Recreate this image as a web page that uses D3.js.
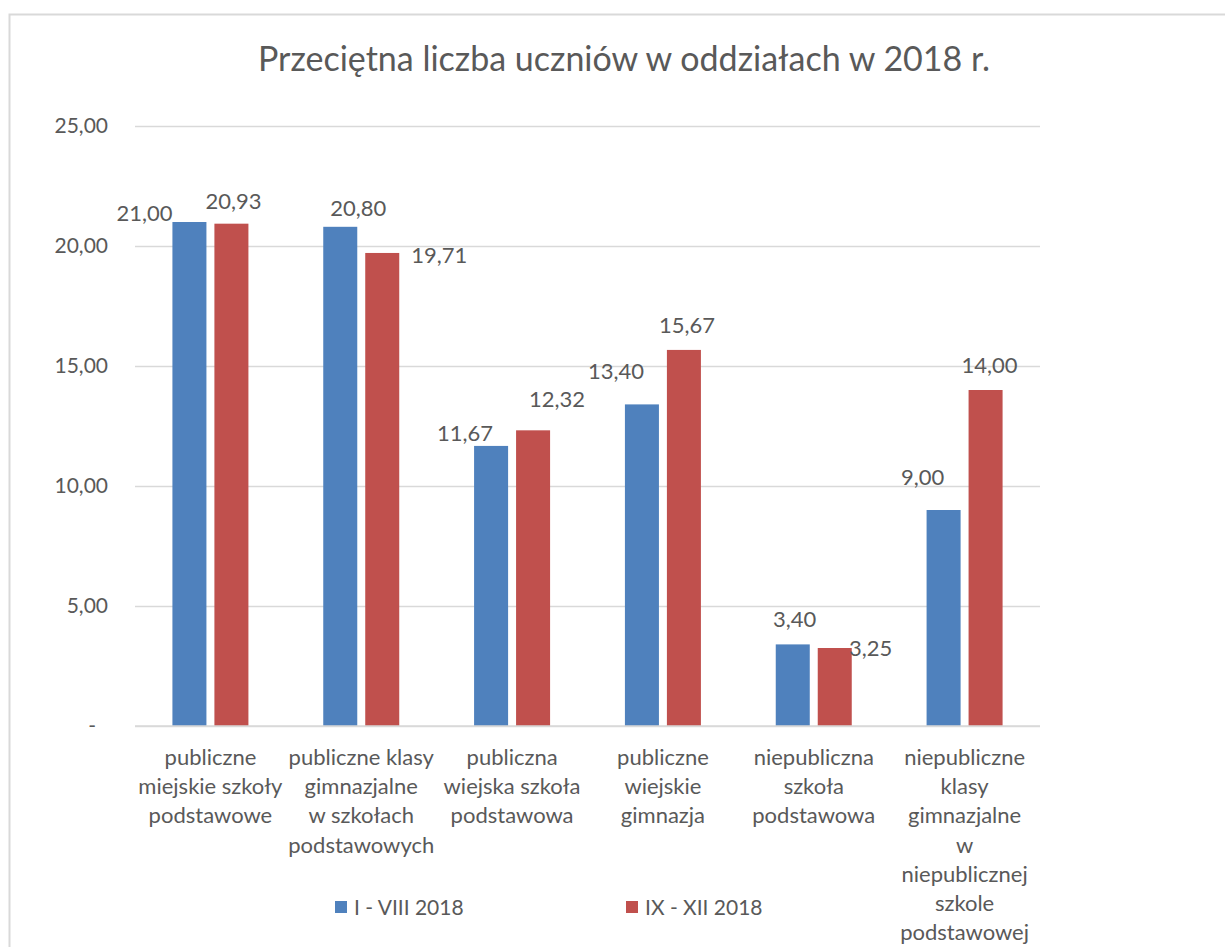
<!DOCTYPE html>
<html>
<head>
<meta charset="utf-8">
<script src="https://cdn.jsdelivr.net/npm/d3@7"></script>
<style>
  body { margin: 0; background: #fff; }
  text { font-family: Lato, "Noto Sans", sans-serif; fill: #595959; }
</style>
</head>
<body>
<div id="chart"></div>
<script>
// chart values
var categories = [
    ["publiczne", "miejskie szkoły", "podstawowe"],
    ["publiczne klasy", "gimnazjalne", "w szkołach", "podstawowych"],
    ["publiczna", "wiejska szkoła", "podstawowa"],
    ["publiczne", "wiejskie", "gimnazja"],
    ["niepubliczna", "szkoła", "podstawowa"],
    ["niepubliczne", "klasy", "gimnazjalne", "w", "niepublicznej", "szkole", "podstawowej"]
];
var seriesNames = ["I - VIII 2018", "IX - XII 2018"];
var firstPeriod = [21.00, 20.80, 11.67, 13.40, 3.40, 9.00];
var secondPeriod = [20.93, 19.71, 12.32, 15.67, 3.25, 14.00];
var yTicks = [0, 5, 10, 15, 20, 25];

// manual data-label nudges (dx, dy from bar top), as placed in the original
var labelNudge = [
    [[-45, -9], [18, -19], [-26, -13], [-26, -33], [2, -25], [-21, -33]],
    [[2, -22], [57, 2], [24, -31], [3, -25], [36, 0], [4, -25]]
];

var ctx = {
    w: 1225,
    h: 947,
    left: 135,
    right: 1040,
    top: 126,
    bottom: 726,
    colors: ["#4F81BD", "#C0504D"],
    grid: "#D9D9D9"
};

var svg = d3.select("#chart").append("svg")
    .attr("width", ctx.w)
    .attr("height", ctx.h);

// outer chart border
svg.append("rect")
    .attr("x", 9.5)
    .attr("y", 14.5)
    .attr("width", 1240)
    .attr("height", 960)
    .attr("fill", "none")
    .attr("stroke", "#D9D9D9")
    .attr("stroke-width", 2);

svg.append("text")
    .attr("x", 624)
    .attr("y", 71)
    .attr("text-anchor", "middle")
    .attr("font-size", "34px")
    .text("Przeciętna liczba uczniów w oddziałach w 2018 r.");

var y = d3.scaleLinear()
    .domain([0, 25])
    .range([ctx.bottom, ctx.top]);

var x0 = d3.scaleBand()
    .domain(d3.range(categories.length))
    .range([ctx.left, ctx.right]);

var groupW = 76;
var x1 = d3.scaleBand()
    .domain([0, 1])
    .range([0, groupW])
    .paddingInner(0.19);

// gridlines
var gridAxis = d3.axisLeft(y)
    .tickValues(yTicks)
    .tickSize(-(ctx.right - ctx.left))
    .tickFormat("");
var gridG = svg.append("g")
    .attr("transform", "translate(" + ctx.left + ",0)")
    .call(gridAxis);
gridG.select(".domain").remove();
gridG.selectAll("line")
    .attr("stroke", ctx.grid)
    .attr("stroke-width", 1.3);

// y labels
var fmt = function(d) {
    return d === 0 ? "-" : d.toFixed(2).replace(".", ",");
};
var yAxis = svg.append("g")
    .attr("transform", "translate(" + (ctx.left - 27) + ",0)")
    .call(d3.axisLeft(y).tickValues(yTicks).tickSize(0).tickPadding(0).tickFormat(fmt));
yAxis.select(".domain").remove();
yAxis.selectAll("text")
    .attr("font-size", "21px")
    .attr("fill", "#595959")
    .attr("font-family", "Lato, 'Noto Sans', sans-serif")
    .filter(d => d === 0)
    .attr("x", -12);

// bars
var allSeries = [firstPeriod, secondPeriod];
var groupOffset = (x0.bandwidth() - groupW) / 2;

allSeries.forEach(function(values, s) {
    svg.append("g")
        .selectAll("rect")
        .data(values)
        .enter()
        .append("rect")
        .attr("x", (d, i) => x0(i) + groupOffset + x1(s))
        .attr("y", d => y(d))
        .attr("width", x1.bandwidth())
        .attr("height", d => y(0) - y(d))
        .attr("fill", ctx.colors[s]);

    svg.append("g")
        .selectAll("text")
        .data(values)
        .enter()
        .append("text")
        .attr("x", (d, i) => x0(i) + groupOffset + x1(s) + x1.bandwidth() / 2 + labelNudge[s][i][0])
        .attr("y", (d, i) => y(d) + labelNudge[s][i][1])
        .attr("dy", "0.35em")
        .attr("text-anchor", "middle")
        .attr("font-size", "22px")
        .text(d => d.toFixed(2).replace(".", ","));
});

// category axis baseline
svg.append("line")
    .attr("x1", ctx.left)
    .attr("x2", ctx.right)
    .attr("y1", y(0))
    .attr("y2", y(0))
    .attr("stroke", ctx.grid)
    .attr("stroke-width", 1.5);

// category labels
var catG = svg.append("g");
categories.forEach(function(lines, i) {
    var t = catG.append("text")
        .attr("text-anchor", "middle")
        .attr("font-size", "22px");
    t.selectAll("tspan")
        .data(lines)
        .enter()
        .append("tspan")
        .attr("x", x0(i) + x0.bandwidth() / 2)
        .attr("y", (d, k) => 765 + k * 29.2)
        .text(d => d);
});

// legend
var legend = svg.append("g");
var legendX = [335, 626];
seriesNames.forEach(function(name, s) {
    legend.append("rect")
        .attr("x", legendX[s])
        .attr("y", 901)
        .attr("width", 12)
        .attr("height", 12)
        .attr("fill", ctx.colors[s]);
    legend.append("text")
        .attr("x", legendX[s] + 19)
        .attr("y", 915)
        .attr("font-size", "21px")
        .text(name);
});
</script>
</body>
</html>
